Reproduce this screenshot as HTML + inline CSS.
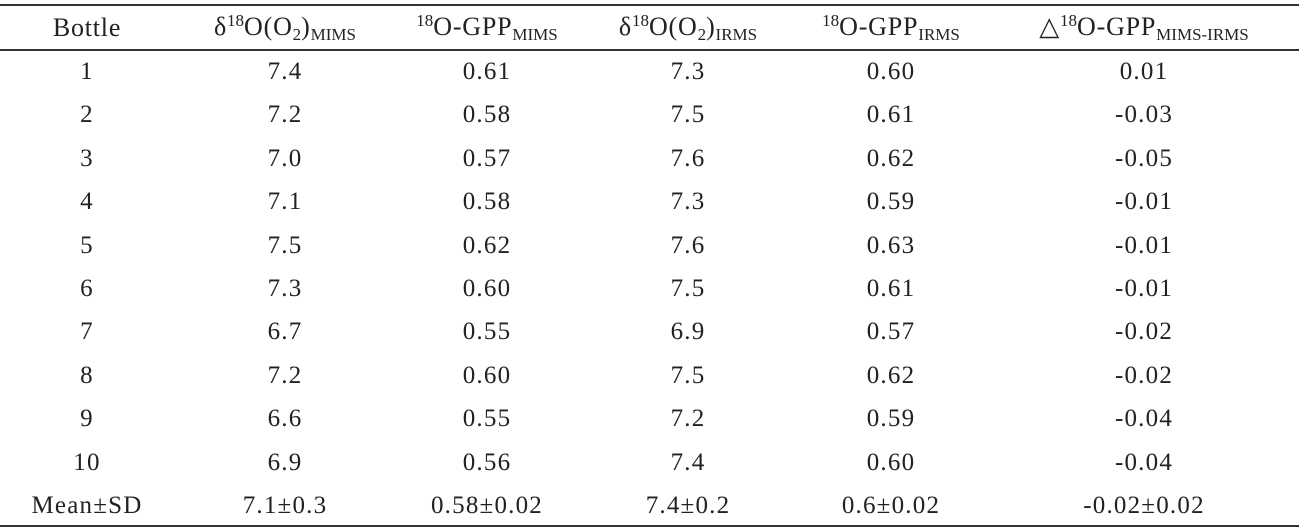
<!DOCTYPE html>
<html><head><meta charset="utf-8"><style>
body{margin:0;width:1299px;height:530px;background:#fff;position:relative;overflow:hidden;font-family:"Liberation Serif",serif;color:#222;}
.r{position:absolute;left:0;width:1299px;height:2px;background:#333;}
.c{position:absolute;transform:translate(-50%,-50%);white-space:nowrap;font-size:25px;letter-spacing:1.2px;}
.h{font-size:26px;letter-spacing:0.8px}
sub{font-size:17px;vertical-align:-5px;letter-spacing:0}
sup{font-size:17px;vertical-align:9px;letter-spacing:0}
</style></head><body>
<div class="r" style="top:4px"></div>
<div class="r" style="top:49px"></div>
<div class="r" style="top:525px"></div>
<div id="t"></div>
<script>
const xs=[87,285,487,688,891,1144];
const head=['Bottle','&delta;<sup>18</sup>O(O<sub>2</sub>)<sub>MIMS</sub>','<sup>18</sup>O-GPP<sub>MIMS</sub>','&delta;<sup>18</sup>O(O<sub>2</sub>)<sub>IRMS</sub>','<sup>18</sup>O-GPP<sub>IRMS</sub>','&#9651;<sup>18</sup>O-GPP<sub>MIMS-IRMS</sub>'];
const rows=[['1','7.4','0.61','7.3','0.60','0.01'],['2','7.2','0.58','7.5','0.61','-0.03'],['3','7.0','0.57','7.6','0.62','-0.05'],['4','7.1','0.58','7.3','0.59','-0.01'],['5','7.5','0.62','7.6','0.63','-0.01'],['6','7.3','0.60','7.5','0.61','-0.01'],['7','6.7','0.55','6.9','0.57','-0.02'],['8','7.2','0.60','7.5','0.62','-0.02'],['9','6.6','0.55','7.2','0.59','-0.04'],['10','6.9','0.56','7.4','0.60','-0.04'],['Mean&plusmn;SD','7.1&plusmn;0.3','0.58&plusmn;0.02','7.4&plusmn;0.2','0.6&plusmn;0.02','-0.02&plusmn;0.02']];
let h='';
head.forEach((s,i)=>h+=`<div class="c h" style="left:${xs[i]}px;top:28px">${s}</div>`);
rows.forEach((r,j)=>r.forEach((s,i)=>h+=`<div class="c" style="left:${xs[i]}px;top:${72+j*43.4}px">${s}</div>`));
document.getElementById('t').innerHTML=h;
</script>
</body></html>
